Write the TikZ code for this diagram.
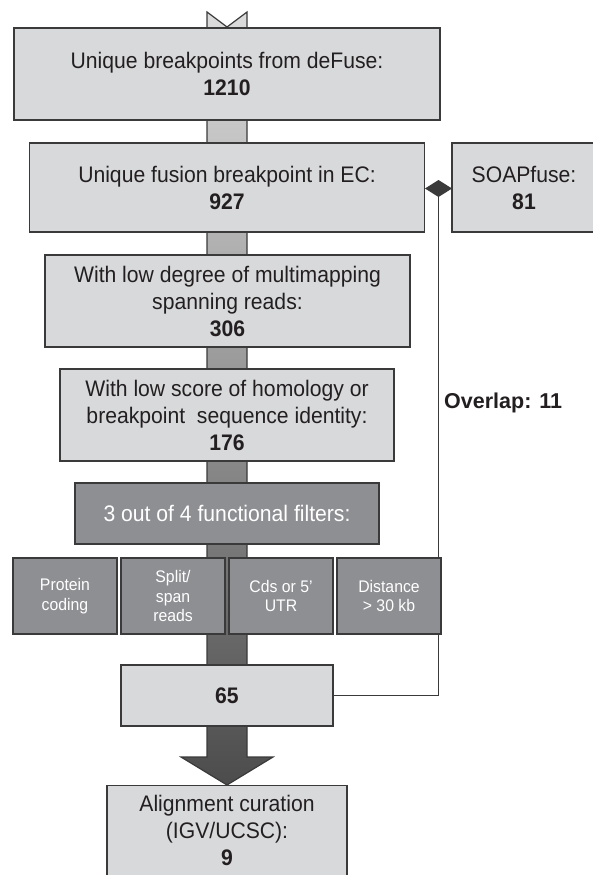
\documentclass[tikz,border=0pt]{standalone}
\usepackage{fontspec}
\setmainfont{Liberation Sans}[FakeStretch=0.94]
\newfontfamily\plainsans{Liberation Sans}
\usetikzlibrary{arrows.meta}
\definecolor{boxlight}{HTML}{D8D9DB}
\definecolor{boxdark}{HTML}{8E8F93}
\definecolor{edge}{HTML}{3A3A3A}
\definecolor{ink}{HTML}{231F20}
\definecolor{shafttop}{HTML}{DCDCDC}
\definecolor{shaftbot}{HTML}{4C4C4C}
\begin{document}
\begin{tikzpicture}[x=1pt,y=-1pt,
  lightbox/.style={draw=edge, line width=1.3pt, fill=boxlight, text=ink,
    align=center, inner sep=0pt, font=\fontsize{22.5}{27}\selectfont},
  darkbox/.style={draw=edge, line width=1.3pt, fill=boxdark, text=white,
    align=center, inner sep=0pt},
  filterbox/.style={darkbox, minimum width=104pt, minimum height=76pt,
    font=\fontsize{16.8}{19.5}\selectfont},
  link/.style={draw=edge, line width=1.2pt}
]
\useasboundingbox (0,0) rectangle (593,875);
\clip (0,0) rectangle (593,875);

% flow arrow running behind all stages
\path[draw=edge, line width=1.2pt, top color=shafttop, bottom color=shaftbot]
  (207,12) -- (227,27) -- (247,12) -- (247,757) -- (273,757)
  -- (227,785) -- (181,757) -- (207,757) -- cycle;

% overlap connector between the final set and SOAPfuse
\coordinate (ovtip) at (438.5,180);
\draw[link, -{Diamond[length=17pt,width=27pt]}] (227+106,695.5) -| (ovtip);

% stages
\node[lightbox, minimum width=426pt, minimum height=92pt] (src) at (227,74)
  {Unique breakpoints from deFuse:\\\textbf{1210}};
\node[lightbox, minimum width=395pt, minimum height=89pt] (ec) at (227,187.5)
  {Unique fusion breakpoint in EC:\\\textbf{927}};
\node[lightbox, minimum width=144pt, minimum height=89pt] (soap) at (524,187.5)
  {SOAPfuse:\\\textbf{81}};
\node[lightbox, minimum width=365pt, minimum height=92pt] (multi) at (227.5,301)
  {With low degree of multimapping\\spanning reads:\\\textbf{306}};
\node[lightbox, minimum width=334pt, minimum height=92pt] (homol) at (227,415)
  {With low score of homology or\\breakpoint\ \ sequence identity:\\\textbf{176}};
\node[darkbox, minimum width=304pt, minimum height=61pt,
  font=\fontsize{22.5}{27}\selectfont] (filt) at (227,513.5)
  {3 out of 4 functional filters:};
\node[filterbox] (fprot) at (65,596) {Protein\\coding};
\node[filterbox] (fsplit) at (173,596) {Split/\\span\\reads};
\node[filterbox] (fcds) at (281,596) {Cds or 5’\\UTR};
\node[filterbox] (fdist) at (389,596) {Distance\\> 30 kb};
\node[lightbox, minimum width=212pt, minimum height=61pt] (res) at (227,695.5)
  {\textbf{65}};
\node[lightbox, minimum width=240pt, minimum height=110pt, anchor=north]
  (curbox) at (227,785) {};
\node[text=ink, align=center, inner sep=0pt, font=\fontsize{22.5}{27}\selectfont]
  (curtext) at (227,830) {Alignment curation\\(IGV/UCSC):\\\textbf{9}};

\node[text=ink, anchor=west, inner sep=0pt,
  font=\plainsans\bfseries\fontsize{21.5}{25}\selectfont] (ovl) at (444,403)
  {Overlap: 11};
\end{tikzpicture}
\end{document}
